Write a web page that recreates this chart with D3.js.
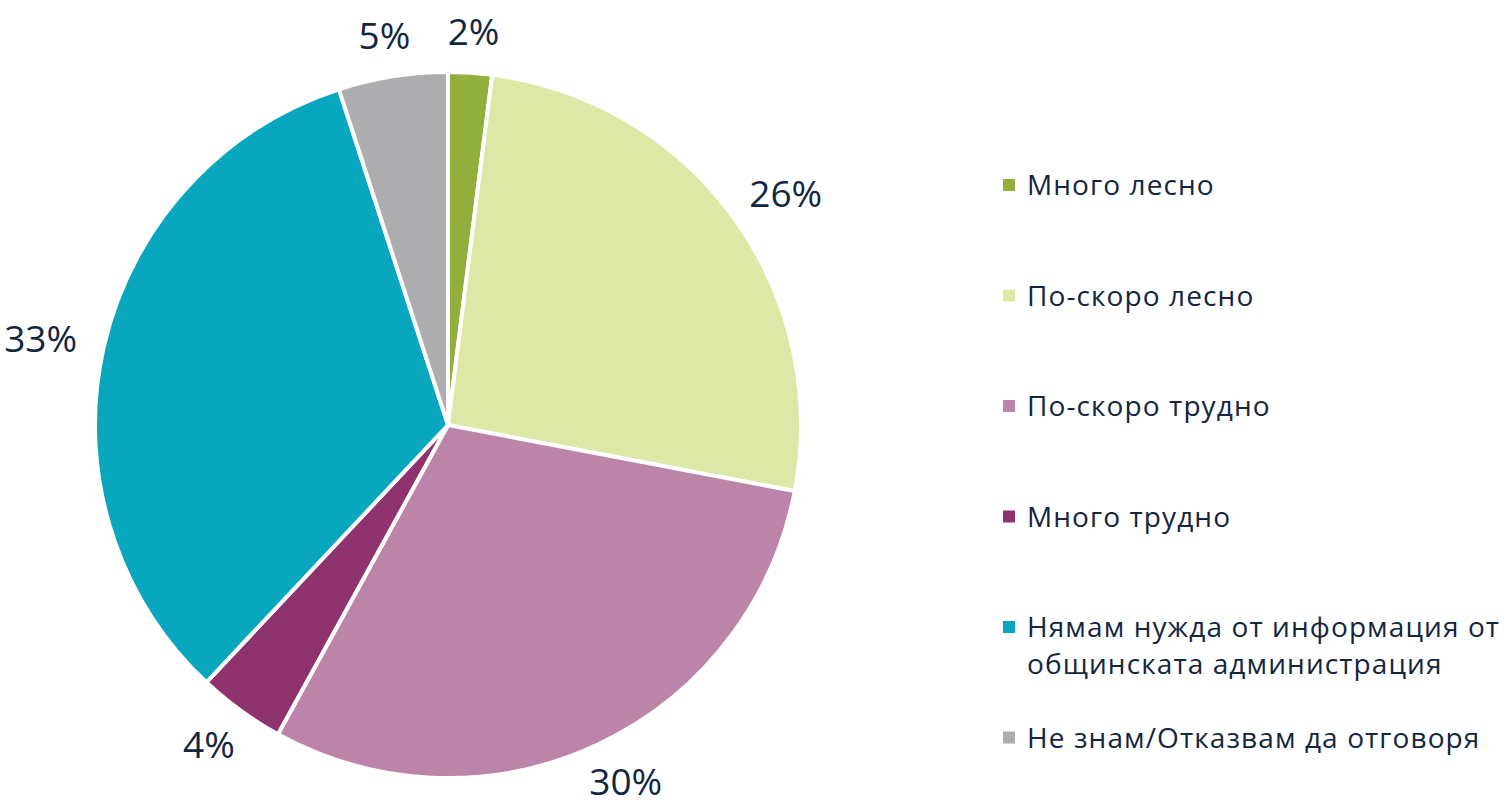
<!DOCTYPE html>
<html>
<head>
<meta charset="utf-8">
<script src="https://cdn.jsdelivr.net/npm/d3@7"></script>
<style>
  html, body { margin: 0; padding: 0; background: #fff; }
  svg text { font-family: "Open Sans", "Noto Sans", sans-serif; fill: #13263f; }
</style>
</head>
<body>
<svg id="chart" width="1511" height="807"></svg>
<script>
// данни
const categories = [
  "Много лесно",
  "По-скоро лесно",
  "По-скоро трудно",
  "Много трудно",
  "Нямам нужда от информация от|общинската администрация",
  "Не знам/Отказвам да отговоря"
];
const values = [2, 26, 30, 4, 33, 5];
const colors = ["#92ae3c", "#dde8a7", "#bc84a9", "#8e336e", "#08a7be", "#adadaf"];

const svg = d3.select("#chart");
const cx = 448, cy = 425, R = 353;

const pie = d3.pie().sort(null).value(d => d.v);
const arcs = pie(values.map((v, i) => ({ v, i })));
const arc = d3.arc().innerRadius(0).outerRadius(R);

const g = svg.append("g").attr("transform", `translate(${cx},${cy})`);

g.selectAll("path.slice")
  .data(arcs)
  .join("path")
  .attr("class", "slice")
  .attr("d", arc)
  .attr("fill", d => colors[d.data.i])
  .attr("stroke", "#fff")
  .attr("stroke-width", 4)
  .attr("stroke-linejoin", "miter");

// етикети с проценти — извън кръга
const gap = 28;
const pctSize = 37;
const capH = pctSize * 0.73;
g.selectAll("text.pct")
  .data(arcs)
  .join("text")
  .attr("class", "pct")
  .attr("font-size", pctSize)
  .attr("text-anchor", "middle")
  .text(d => d.data.v + "%")
  .each(function (d) {
    const a = (d.startAngle + d.endAngle) / 2;
    const s = Math.sin(a), c = -Math.cos(a);
    const w = this.getComputedTextLength();
    const x = s * (R + gap) + s * w / 2;
    const y = c * (R + gap) + c * capH / 2;
    d3.select(this).attr("x", x).attr("y", y + capH / 2);
  });

// легенда
const leg = svg.append("g").attr("transform", "translate(1003,185)");
const rowH = 110.5;
categories.forEach((name, i) => {
  const row = leg.append("g").attr("transform", `translate(0,${i * rowH})`);
  row.append("rect")
    .attr("x", 0).attr("y", -6).attr("width", 12).attr("height", 12)
    .attr("fill", colors[i]);
  const lines = name.split("|");
  const t = row.append("text")
    .attr("x", 24).attr("y", 10)
    .attr("font-size", 28)
    .attr("letter-spacing", 1.1);
  lines.forEach((ln, k) => {
    t.append("tspan").attr("x", 24).attr("dy", k === 0 ? 0 : 37).text(ln);
  });
});
</script>
</body>
</html>
